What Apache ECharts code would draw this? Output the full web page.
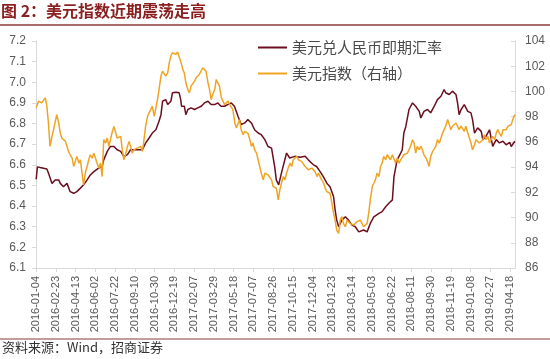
<!DOCTYPE html>
<html>
<head>
<meta charset="utf-8">
<script src="https://cdn.jsdelivr.net/npm/echarts@6/dist/echarts.min.js"></script>
<style>
  html, body { margin: 0; padding: 0; background: #fff; }
  #chart { width: 550px; height: 359px; }
</style>
</head>
<body>
<div id="chart"></div>
<script>
// Category axis: calendar days starting 2016-01-04
const startDate = '2016-01-04';
const dayCount = 1213;
const leftTicks = ['6.1','6.2','6.3','6.4','6.5','6.6','6.7','6.8','6.9','7.0','7.1','7.2'];
const rightTicks = ['86','88','90','92','94','96','98','100','102','104'];

const cnyName = '美元兑人民币即期汇率';
const dxyName = '美元指数（右轴）';

// Day offsets (from 2016-01-04) and values
const cnyDays = [0,3,10,27,31,40,48,57,61,69,78,86,95,103,112,120,129,137,146,158,167,171,180,188,197,205,214,222,231,239,248,260,269,277,286,294,303,311,316,320,328,333,341,345,354,362,366,368,375,379,384,392,401,409,418,426,435,443,452,460,468,477,485,494,502,511,519,528,536,545,553,562,570,579,587,596,604,608,614,621,634,642,655,668,681,689,702,710,719,727,736,744,753,757,761,766,774,783,791,800,808,817,829,838,846,855,868,876,885,893,897,902,906,914,923,927,931,936,944,953,961,970,974,982,991,999,1008,1016,1025,1033,1037,1046,1054,1063,1067,1071,1076,1084,1093,1101,1105,1110,1118,1127,1131,1139,1148,1156,1165,1173,1182,1190,1199,1203,1212];
const cnyValues = [6.53,6.59,6.587,6.58,6.56,6.51,6.527,6.527,6.51,6.494,6.51,6.47,6.462,6.47,6.487,6.503,6.527,6.551,6.567,6.584,6.592,6.624,6.665,6.689,6.689,6.673,6.665,6.64,6.649,6.673,6.673,6.673,6.673,6.705,6.73,6.754,6.77,6.811,6.843,6.908,6.916,6.892,6.908,6.949,6.952,6.949,6.916,6.884,6.884,6.843,6.868,6.876,6.868,6.876,6.884,6.9,6.908,6.892,6.892,6.9,6.884,6.884,6.892,6.9,6.884,6.835,6.795,6.803,6.819,6.803,6.77,6.754,6.746,6.722,6.689,6.681,6.59,6.527,6.503,6.56,6.657,6.633,6.641,6.637,6.641,6.624,6.6,6.592,6.567,6.543,6.511,6.494,6.446,6.381,6.332,6.3,6.332,6.348,6.332,6.308,6.3,6.275,6.284,6.275,6.316,6.348,6.365,6.373,6.397,6.414,6.405,6.43,6.543,6.624,6.657,6.673,6.754,6.786,6.868,6.9,6.884,6.859,6.827,6.859,6.868,6.852,6.884,6.916,6.932,6.965,6.949,6.941,6.957,6.941,6.9,6.843,6.868,6.892,6.859,6.852,6.819,6.754,6.779,6.762,6.722,6.738,6.77,6.689,6.722,6.706,6.714,6.697,6.709,6.689,6.714];

const dxyDays = [0,6,14,23,27,31,35,40,44,52,57,61,65,69,74,78,82,86,91,95,99,103,108,112,116,120,125,129,133,137,142,146,150,154,159,163,167,171,176,180,184,188,193,197,201,205,209,214,218,222,226,231,235,239,243,248,256,265,269,273,277,282,286,290,294,299,303,307,311,316,320,324,328,333,337,341,345,350,354,358,362,367,371,375,379,384,388,392,396,401,405,409,413,418,422,426,430,435,439,443,447,452,456,460,464,469,473,477,481,486,490,494,498,503,507,511,515,519,524,528,532,536,541,545,549,553,558,562,566,570,575,579,583,587,592,596,600,604,608,613,617,621,626,630,634,638,643,647,651,655,660,664,668,672,677,681,685,689,694,698,702,706,711,715,719,723,728,732,736,740,744,749,753,757,761,766,770,774,778,783,787,791,795,800,804,808,812,817,821,825,829,834,838,842,846,851,855,859,863,868,872,876,880,885,889,893,897,902,906,910,914,919,923,927,931,936,940,944,948,953,957,961,965,970,974,978,982,987,991,995,999,1004,1008,1012,1016,1021,1025,1029,1033,1037,1042,1046,1050,1054,1059,1063,1067,1071,1076,1080,1084,1088,1093,1097,1101,1105,1110,1114,1118,1122,1127,1131,1135,1139,1144,1148,1152,1156,1161,1165,1169,1173,1178,1182,1186,1190,1195,1199,1203,1207,1212];
const dxyValues = [98.7,99.23,99.09,99.49,98.83,97.5,95.64,96.44,96.97,98.16,97.5,96.7,96.31,96.44,96.04,96.17,95.24,94.98,94.71,94.05,94.18,94.85,94.32,94.58,93.52,92.59,93.65,94.05,94.58,94.98,94.71,95.11,94.98,94.32,93.92,94.32,93.25,96.17,95.91,96.31,95.64,96.17,96.84,97.23,97.1,96.31,96.17,96.44,95.38,94.58,94.98,95.64,96.04,95.64,95.11,95.38,95.51,95.64,95.24,96.17,97.23,98.03,98.3,98.56,98.83,98.03,97.9,99.36,100.15,101.22,101.61,101.48,101.22,101.48,102.28,102.81,103.07,103.21,102.94,103.13,103.07,102.28,101.75,101.48,100.69,100.15,99.89,100.42,100.55,100.82,101.08,101.22,101.35,101.48,101.88,102.01,101.61,100.69,100.15,99.36,99.76,100.15,100.95,101.08,100.42,99.49,99.23,98.96,98.83,99.23,98.96,99.09,98.56,97.5,97.1,97.23,97.77,96.97,96.57,96.84,96.97,96.7,96.17,95.64,95.91,95.38,95.11,94.58,94.05,93.52,92.99,93.52,93.65,93.39,93.25,92.99,92.46,92.5,92.33,91.4,92.19,92.72,93.25,92.99,93.52,93.92,94.32,94.05,94.58,94.71,94.85,94.58,94.71,94.45,94.32,94.05,94.18,93.79,93.65,93.92,94.05,93.65,93.25,93.52,93.25,92.99,92.72,92.33,92.06,92.19,91.93,91.13,90.33,89.8,89.01,88.74,89.8,90.07,89.54,89.27,89.8,89.67,89.54,89.67,89.4,89.54,89.67,89.54,89.8,89.67,89.27,89.14,89.54,90.33,91.4,92.46,92.72,92.99,93.52,93.25,94.05,94.32,94.85,94.58,94.98,94.85,94.58,94.98,95.11,94.32,94.71,94.32,94.58,94.71,94.98,94.85,95.11,95.38,95.64,96.17,95.91,95.11,95.64,95.38,95.64,95.38,94.98,94.71,94.45,94.05,94.85,95.25,95.38,95.64,96.17,95.91,96.31,96.7,96.97,97.24,97.77,97.37,96.97,97.24,97.1,97.5,97.24,96.97,97.24,97.1,96.84,97.24,96.7,96.31,95.91,95.38,95.78,96.17,96.31,95.91,96.04,96.17,96.57,96.17,96.44,95.91,96.17,96.44,96.17,96.7,96.97,96.7,96.44,96.97,97.1,96.97,97.24,97.1,97.37,97.77,98.16];

const categories = [];
{
  const d0 = new Date(startDate + 'T00:00:00Z');
  for (let i = 0; i < dayCount; i++) {
    const d = new Date(d0.getTime() + i * 86400000);
    categories.push(d.toISOString().slice(0, 10));
  }
}
const cnyData = cnyDays.map((d, i) => [d, cnyValues[i]]);
const dxyData = dxyDays.map((d, i) => [d, dxyValues[i]]);

const numFont = 'Liberation Sans';
const cjkFont = 'Noto Sans CJK SC';
const chart = echarts.init(document.getElementById('chart'), null, { renderer: 'canvas' });
chart.setOption({
  animation: false,
  backgroundColor: '#ffffff',
  graphic: [
    { type: 'text', left: 1, top: 3, style: { text: '图 2：美元指数近期震荡走高', fill: '#8B1E1E', font: 'bold 16px "Noto Sans CJK SC"' } },
    { type: 'line', shape: { x1: 0, y1: 25, x2: 550, y2: 25 }, style: { stroke: '#8B3A3A', lineWidth: 1.5 } },
    { type: 'line', shape: { x1: 0, y1: 339, x2: 550, y2: 339 }, style: { stroke: '#8B3A3A', lineWidth: 1.2 } },
    { type: 'text', left: 2, top: 341, style: { text: '资料来源：Wind，招商证券', fill: '#333333', font: '13px "Noto Sans CJK SC"' } }
  ],
  legend: {
    orient: 'vertical',
    left: 253,
    top: 35,
    itemWidth: 29,
    itemHeight: 2,
    itemGap: 11,
    icon: 'rect',
    textStyle: { fontFamily: cjkFont, fontSize: 15, color: '#4a4a4a' },
    data: [cnyName, dxyName]
  },
  grid: { left: 36, right: 35, top: 41, bottom: 91, containLabel: false },
  xAxis: {
    type: 'category',
    data: categories,
    boundaryGap: true,
    axisLine: { lineStyle: { color: '#D9D9D9' } },
    axisTick: { show: true, interval: 49, alignWithLabel: true, length: 4, lineStyle: { color: '#D9D9D9' } },
    axisLabel: { interval: 49, rotate: 90, color: '#595959', fontFamily: numFont, fontSize: 11, margin: 8 },
    splitLine: { show: false }
  },
  yAxis: [
    {
      type: 'value', min: 6.1, max: 7.2, interval: 0.1, position: 'left',
      axisLine: { show: true, lineStyle: { color: '#D9D9D9' } },
      axisTick: { show: true, length: 4, lineStyle: { color: '#D9D9D9' } },
      axisLabel: { color: '#595959', fontFamily: numFont, fontSize: 12, margin: 10, formatter: v => v.toFixed(1) },
      splitLine: { show: false }
    },
    {
      type: 'value', min: 86, max: 104, interval: 2, position: 'right',
      axisLine: { show: true, lineStyle: { color: '#D9D9D9' } },
      axisTick: { show: true, inside: true, length: 4, lineStyle: { color: '#D9D9D9' } },
      axisLabel: { color: '#595959', fontFamily: numFont, fontSize: 12, margin: 10 },
      splitLine: { show: false }
    }
  ],
  series: [
    { name: cnyName, type: 'line', yAxisIndex: 0, data: cnyData, showSymbol: false, symbol: 'none',
      lineStyle: { color: '#6B0F1F', width: 1.5 }, itemStyle: { color: '#6B0F1F' } },
    { name: dxyName, type: 'line', yAxisIndex: 1, data: dxyData, showSymbol: false, symbol: 'none',
      lineStyle: { color: '#F0A424', width: 1.5 }, itemStyle: { color: '#F0A424' } }
  ]
});
</script>
</body>
</html>
